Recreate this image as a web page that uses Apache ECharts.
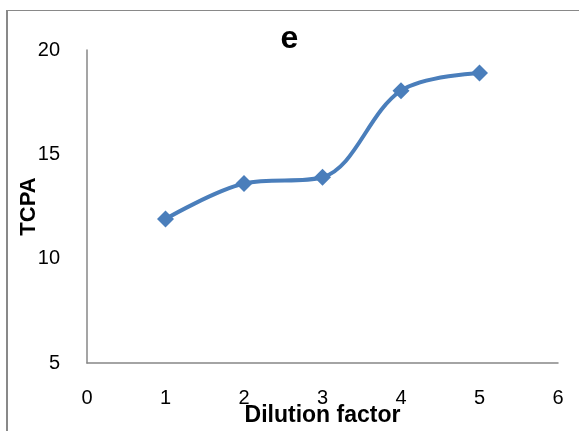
<!DOCTYPE html>
<html>
<head>
<meta charset="utf-8">
<script src="https://cdn.jsdelivr.net/npm/echarts@6/dist/echarts.min.js"></script>
<style>
html,body{margin:0;padding:0;background:#fff;}
#chart{width:579px;height:431px;}
</style>
</head>
<body>
<div id="chart"></div>
<script>
const dilution = [1, 2, 3, 4, 5];
const tcpa = [11.9, 13.6, 13.9, 18.05, 18.9];
const titleText = 'e';
const xName = 'Dilution factor';
const yName = 'TCPA';

const chart = echarts.init(document.getElementById('chart'));
const FONT = '"Liberation Sans", Arial, sans-serif';
chart.setOption({
  animation: false,
  backgroundColor: '#ffffff',
  title: {
    text: titleText,
    left: 'center',
    top: 18,
    textStyle: {fontFamily: FONT, fontSize: 32, fontWeight: 'bold', color: '#000'}
  },
  graphic: [
    {type: 'line', shape: {x1: 7, y1: 10.5, x2: 579, y2: 10.5}, style: {stroke: '#898989', lineWidth: 1.2}},
    {type: 'line', shape: {x1: 7, y1: 10, x2: 7, y2: 431}, style: {stroke: '#898989', lineWidth: 2}}
  ],
  grid: {left: 87, right: 21, top: 50, bottom: 68, containLabel: false, outerBoundsMode: 'none'},
  xAxis: {
    type: 'value',
    min: 0, max: 6, interval: 1,
    name: xName,
    nameLocation: 'middle',
    nameGap: 41,
    nameMoveOverlap: false,
    nameTextStyle: {fontFamily: FONT, fontSize: 23, fontWeight: 'bold', color: '#000'},
    axisLine: {show: true, lineStyle: {color: '#878787', width: 1.5}},
    axisTick: {show: false},
    splitLine: {show: false},
    axisLabel: {margin: 25, fontFamily: FONT, fontSize: 20, color: '#000'}
  },
  yAxis: {
    type: 'value',
    min: 5, max: 20, interval: 5,
    name: yName,
    nameLocation: 'middle',
    nameGap: 47,
    nameMoveOverlap: false,
    nameRotate: 90,
    nameTextStyle: {fontFamily: FONT, fontSize: 22, fontWeight: 'bold', color: '#000'},
    axisLine: {show: true, lineStyle: {color: '#878787', width: 1.5}},
    axisTick: {show: false},
    splitLine: {show: false},
    axisLabel: {margin: 27, fontFamily: FONT, fontSize: 20, color: '#000'}
  },
  series: [{
    type: 'line',
    data: dilution.map((d, i) => [d, tcpa[i]]),
    smooth: 0.35,
    symbol: 'diamond',
    symbolSize: 17,
    lineStyle: {color: '#4a7ebb', width: 4},
    itemStyle: {color: '#4a7ebb'}
  }]
});
</script>
</body>
</html>
